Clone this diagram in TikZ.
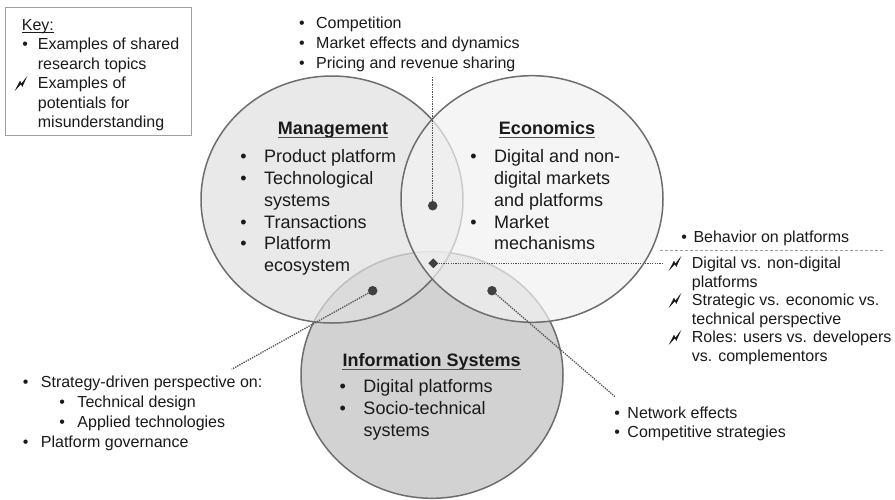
\documentclass[tikz,border=0pt]{standalone}
\usepackage{fontspec}
\setmainfont{Liberation Sans}
\usetikzlibrary{shapes.geometric}
\definecolor{edgec}{HTML}{6E6E6E}
\definecolor{mgmtf}{HTML}{E0E0E0}
\definecolor{econf}{HTML}{F2F2F2}
\definecolor{isf}{HTML}{D2D2D2}
\definecolor{dotc}{HTML}{404040}
\definecolor{linec}{HTML}{505050}
\definecolor{keyc}{HTML}{A0A0A0}
\definecolor{ulc}{HTML}{505050}
\definecolor{txtc}{HTML}{1A1A1A}
\newcommand\bul[1]{\llap{\textbullet\hspace{#1}}}
\begin{document}
\begin{tikzpicture}[x=1pt,y=-1pt,
  setfill/.style={fill opacity=0.7, draw=edgec, line width=1.5pt},
  basefill/.style={draw=edgec, line width=1.5pt},
  conn/.style={draw=linec, line width=1.3pt, dash pattern=on 1.3pt off 1.1pt},
  sepline/.style={draw=keyc, line width=0.8pt, dash pattern=on 3pt off 2pt},
  dotmark/.style={circle, fill=dotc, inner sep=0pt, minimum size=9.5pt},
  diamark/.style={diamond, fill=dotc, inner sep=0pt, minimum size=10pt},
  small/.style={inner sep=0pt, text=txtc, font=\fontsize{16}{#1}\selectfont},
  large/.style={inner sep=0pt, text=txtc, font=\fontsize{18}{21.8}\selectfont},
  hdr/.style={inner sep=0pt, text=txtc, font=\fontsize{18}{21.8}\selectfont\bfseries},
  ul/.style={draw=ulc, line width=1.3pt},
  bolt/.pic={\filldraw[txtc, line width=0.6pt, line join=miter] (0,0.5) -- (4,-7.2) -- (5.4,-4.4) -- (10,-10.5) -- (6.3,-2.3) -- (4.9,-4.9) -- cycle;}
]
\useasboundingbox (0,0) rectangle (895,499);
\fill[white] (0,0) rectangle (895,499);

% key
\node[draw=keyc, line width=0.9pt, anchor=north west, minimum width=185.7pt, minimum height=127.7pt, inner sep=0pt] (keybox) at (5,7.3) {};
\node[small=19.5, anchor=base west] (keyhdr) at (21.7,30.3) {Key:};
\draw[draw=txtc, line width=0.8pt] ([yshift=-1.6pt]keyhdr.base west) -- ([yshift=-1.6pt]keyhdr.base east);
\node[small=19.5, anchor=base west] (keylist) at (37.7,49.6) {\begin{tabular}[t]{@{}l@{}}\bul{10pt}Examples of shared\\ research topics\\ Examples of\\ potentials for\\ misunderstanding\end{tabular}};
\pic at (16,88.6) {bolt};

% circles
\path[basefill, fill=isf] (432,375) ellipse [x radius=131pt, y radius=123.3pt];
\path[setfill, fill=mgmtf] (332,199.5) ellipse [x radius=131pt, y radius=123.5pt];
\path[setfill, fill=econf] (532,199) ellipse [x radius=131pt, y radius=123.3pt];

% markers
\node[dotmark] (dtop) at (432.7,205.7) {};
\node[diamark] (dmid) at (433.3,263.3) {};
\node[dotmark] (dleft) at (372.7,290.7) {};
\node[dotmark] (dright) at (492,290.7) {};
\coordinate (etop) at (432.7,76);
\coordinate (emid) at (663,263.3);
\coordinate (eleft) at (231.7,369.3);
\coordinate (eright) at (615,396.7);
\coordinate (sepl) at (660,250.7);
\coordinate (sepr) at (884,250.7);

\draw[conn] (dtop) -- (etop);
\draw[conn] (dmid) -- (emid);
\draw[conn] (dleft) -- (eleft);
\draw[conn] (dright) -- (eright);
\draw[sepline] (sepl) -- (sepr);

% headers
\node[hdr, anchor=base] (mh) at (333,134.5) {Management};
\draw[ul] ([yshift=-2.8pt]mh.base west) -- ([yshift=-2.8pt]mh.base east);
\node[hdr, anchor=base] (eh) at (547,134.5) {Economics};
\draw[ul] ([yshift=-2.8pt]eh.base west) -- ([yshift=-2.8pt]eh.base east);
\node[hdr, anchor=base] (ih) at (431.7,366.5) {Information Systems};
\draw[ul] ([yshift=-2.8pt]ih.base west) -- ([yshift=-2.8pt]ih.base east);

% circle lists
\node[large, anchor=base west] (ml) at (264,162.7) {\begin{tabular}[t]{@{}l@{}}\bul{17.5pt}Product platform\\ \bul{17.5pt}Technological\\ systems\\ \bul{17.5pt}Transactions\\ \bul{17.5pt}Platform\\ ecosystem\end{tabular}};
\node[large, anchor=base west] (el) at (494,162.7) {\begin{tabular}[t]{@{}l@{}}\bul{17.5pt}Digital and non-\\ digital markets\\ and platforms\\ \bul{17.5pt}Market\\ mechanisms\end{tabular}};
\node[large, anchor=base west] (il) at (363.3,392.7) {\begin{tabular}[t]{@{}l@{}}\bul{17.5pt}Digital platforms\\ \bul{17.5pt}Socio-technical\\ systems\end{tabular}};

% outer lists
\node[small=20, anchor=base west] (toplist) at (316,28) {\begin{tabular}[t]{@{}l@{}}\bul{11.5pt}Competition\\ \bul{11.5pt}Market effects and dynamics\\ \bul{11.5pt}Pricing and revenue sharing\end{tabular}};
\node[small=18.5, anchor=base west] (behav) at (693.3,242.6) {\bul{6.5pt}Behavior on platforms};
\node[small=18.5, anchor=base west] (rlist) at (691.7,268.6) {\begin{tabular}[t]{@{}l@{}}Digital vs. non-digital\\ platforms\\ Strategic vs. economic vs.\\ technical perspective\\ Roles: users vs. developers\\ vs. complementors\end{tabular}};
\pic at (670,268.6) {bolt};
\pic at (670,305.6) {bolt};
\pic at (670,342.6) {bolt};
\node[small=20, anchor=base west] (llist) at (40.7,387) {\begin{tabular}[t]{@{}l@{}}\bul{12.5pt}Strategy-driven perspective on:\\ \hspace*{36.6pt}\bul{12.5pt}Technical design\\ \hspace*{36.6pt}\bul{12.5pt}Applied technologies\\ \bul{12.5pt}Platform governance\end{tabular}};
\node[small=18.5, anchor=base west] (brlist) at (627.3,418.6) {\begin{tabular}[t]{@{}l@{}}\bul{7.5pt}Network effects\\ \bul{7.5pt}Competitive strategies\end{tabular}};
\end{tikzpicture}
\end{document}
